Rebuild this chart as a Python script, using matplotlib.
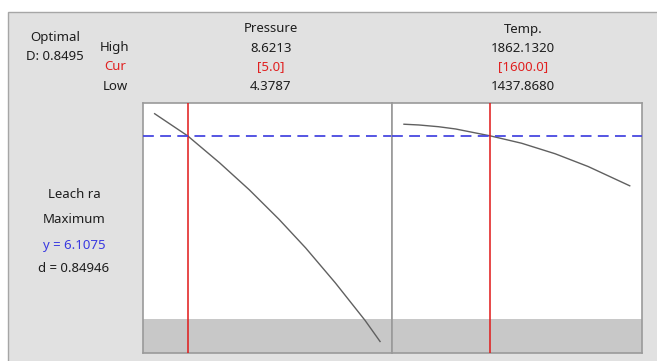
import matplotlib.pyplot as plt
from matplotlib.patches import Rectangle

plt.rcParams['font.family'] = ['Noto Sans', 'DejaVu Sans']

# response optimizer settings
pressure_low, pressure_cur, pressure_high = 4.3787, 5.0, 8.6213
temp_low, temp_cur, temp_high = 1437.8680, 1600.0, 1862.1320
y_opt = 6.1075
d_opt = 0.84946
D_composite = 0.8495
leach_lower = 2.44
y_limits = (1.77, 6.77)

# predicted leach rate along each factor (other factor held at current)
pressure = [4.3787, 5.0, 5.6, 6.16, 6.72, 7.22, 7.78, 8.34, 8.6213]
leach_vs_pressure = [6.55, 6.1075, 5.57, 5.03, 4.44, 3.87, 3.17, 2.42, 2.00]
temp = [1437.868, 1466, 1503, 1535, 1600, 1659, 1722, 1784, 1862.132]
leach_vs_temp = [6.34, 6.325, 6.29, 6.245, 6.1075, 5.96, 5.75, 5.495, 5.11]

W, H = 657, 361
fig = plt.figure(figsize=(W / 100, H / 100), dpi=100)
fig.patch.set_facecolor('white')

bg = '#e1e1e1'
edge = '#a6a6a6'
fig.patches.append(Rectangle((8 / W, -0.01), 1.0, 1 - 12 / H + 0.01,
                             transform=fig.transFigure, facecolor=bg,
                             edgecolor=edge, linewidth=1.0, zorder=-5))


def px(x, y):
    return x / W, 1 - y / H


fs = 9.5
txt = '#1e1e1e'
red = '#e02020'
blue = '#3a3ae0'

fig.text(*px(55, 37), 'Optimal', ha='center', va='center', fontsize=fs, color=txt)
fig.text(*px(55, 57), f'D: {D_composite:.4f}', ha='center', va='center', fontsize=fs, color=txt)
fig.text(*px(115, 48), 'High', ha='center', va='center', fontsize=fs, color=txt)
fig.text(*px(115, 67), 'Cur', ha='center', va='center', fontsize=fs, color=red)
fig.text(*px(115, 86), 'Low', ha='center', va='center', fontsize=fs, color=txt)

for cx, name, hi, cur, lo in [
    (271, 'Pressure', f'{pressure_high:.4f}', f'[{pressure_cur:.1f}]', f'{pressure_low:.4f}'),
    (523, 'Temp.', f'{temp_high:.4f}', f'[{temp_cur:.1f}]', f'{temp_low:.4f}'),
]:
    fig.text(*px(cx, 29), name, ha='center', va='center', fontsize=fs, color=txt)
    fig.text(*px(cx, 48), hi, ha='center', va='center', fontsize=fs, color=txt)
    fig.text(*px(cx, 67), cur, ha='center', va='center', fontsize=fs, color=red)
    fig.text(*px(cx, 86), lo, ha='center', va='center', fontsize=fs, color=txt)

fig.text(*px(74, 195), 'Leach ra', ha='center', va='center', fontsize=fs, color=txt)
fig.text(*px(74, 220), 'Maximum', ha='center', va='center', fontsize=fs, color=txt)
fig.text(*px(74, 245), f'y = {y_opt:.4f}', ha='center', va='center', fontsize=fs, color=blue)
fig.text(*px(74, 269), f'd = {d_opt:.5f}', ha='center', va='center', fontsize=fs, color=txt)

bottom = 1 - 353 / H
height = (353 - 102.7) / H
ax1 = fig.add_axes([142.7 / W, bottom, (392 - 142.7) / W, height])
ax2 = fig.add_axes([392 / W, bottom, (641.7 - 392) / W, height])

panels = [
    (ax1, pressure, leach_vs_pressure, pressure_cur),
    (ax2, temp, leach_vs_temp, temp_cur),
]
for ax, xs, ys, cur in panels:
    ax.set_facecolor('white')
    ax.plot(xs, ys, color='#606060', lw=1.0, zorder=3)
    ax.margins(x=0.053)
    ax.set_ylim(*y_limits)
    ax.axhspan(y_limits[0], leach_lower, color='#c8c8c8', lw=0, zorder=1)
    ax.axvline(cur, color='#e01818', lw=1.1, zorder=4)
    ax.axhline(y_opt, color='#4848e0', lw=1.3, dashes=(6, 3.5), zorder=5)
    ax.set_xticks([])
    ax.set_yticks([])
    for s in ax.spines.values():
        s.set_color('#9a9a9a')
        s.set_linewidth(1.2)

fig.savefig('out.png', dpi=100)
